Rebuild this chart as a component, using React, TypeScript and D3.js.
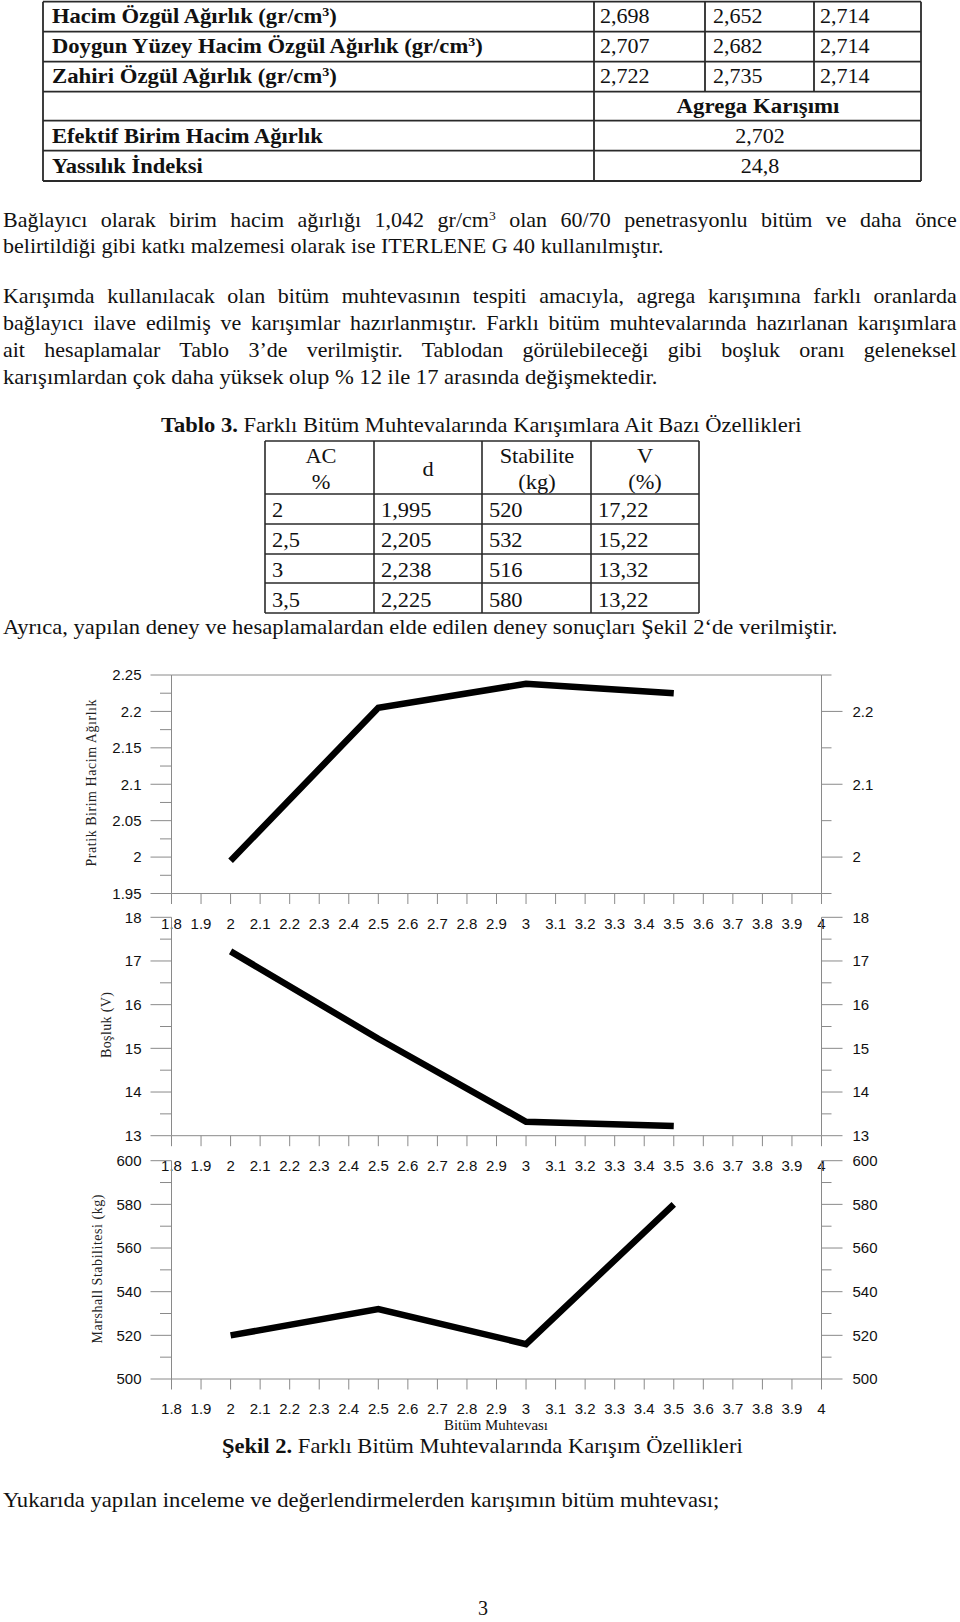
import React, { useEffect, useLayoutEffect, useRef, useState, createContext, useContext } from "react";
import * as d3 from "d3";

// ---------------- DATA ----------------
const matLabels = ["Hacim Özgül Ağırlık (gr/cm^3)", "Doygun Yüzey Hacim Özgül Ağırlık (gr/cm^3)", "Zahiri Özgül Ağırlık (gr/cm^3)"];
const matCol1 = ["2,698", "2,707", "2,722"];
const matCol2 = ["2,652", "2,682", "2,735"];
const matCol3 = ["2,714", "2,714", "2,714"];
const mixHeader = "Agrega Karışımı";
const mixLabels = ["Efektif Birim Hacim Ağırlık", "Yassılık İndeksi"];
const mixValues = ["2,702", "24,8"];

const para1 = [
  "Bağlayıcı olarak birim hacim ağırlığı 1,042 gr/cm^3 olan 60/70 penetrasyonlu bitüm ve daha önce",
  "belirtildiği gibi katkı malzemesi olarak ise ITERLENE G 40 kullanılmıştır.",
];
const para2 = [
  "Karışımda kullanılacak olan bitüm muhtevasının tespiti amacıyla, agrega karışımına farklı oranlarda",
  "bağlayıcı ilave edilmiş ve karışımlar hazırlanmıştır. Farklı bitüm muhtevalarında hazırlanan karışımlara",
  "ait hesaplamalar Tablo 3’de verilmiştir. Tablodan görülebileceği gibi boşluk oranı geleneksel",
  "karışımlardan çok daha yüksek olup % 12 ile 17 arasında değişmektedir.",
];
const table3Title = "**Tablo 3.** Farklı Bitüm Muhtevalarında Karışımlara Ait Bazı Özellikleri";
const table3Head1 = ["AC", "", "Stabilite", "V"];
const table3Head2 = ["%", "", "(kg)", "(%)"];
const afterTable = "Ayrıca, yapılan deney ve hesaplamalardan elde edilen deney sonuçları Şekil 2‘de verilmiştir.";
const figCaption = "**Şekil 2.** Farklı Bitüm Muhtevalarında Karışım Özellikleri";
const xTitle = "Bitüm Muhtevası";
const lastLine = "Yukarıda yapılan inceleme ve değerlendirmelerden karışımın bitüm muhtevası;";
const pageNo = "3";

// chart / table series
const bitumen = [2, 2.5, 3, 3.5];
const density = [1.995, 2.205, 2.238, 2.225];
const stability = [520, 532, 516, 580];
const voids = [17.22, 15.22, 13.32, 13.22];

const xTickLabels = ["1.8", "1.9", "2", "2.1", "2.2", "2.3", "2.4", "2.5", "2.6", "2.7", "2.8", "2.9", "3", "3.1", "3.2", "3.3", "3.4", "3.5", "3.6", "3.7", "3.8", "3.9", "4"];
const densityLeftLabels = ["1.95", "2", "2.05", "2.1", "2.15", "2.2", "2.25"];
const densityRightLabels = ["2", "2.1", "2.2"];
const voidsLabels = ["13", "14", "15", "16", "17", "18"];
const stabLabels = ["500", "520", "540", "560", "580", "600"];

// ---------------- helpers ----------------
const SERIF = "'Liberation Serif', 'Times New Roman', serif";
const SANS = "'Liberation Sans', Arial, sans-serif";
const TickCtx = createContext(0);

function rich(s: string, supDy: number) {
  const parts = s.split(/(\*\*[^*]+\*\*|\^\d)/).filter((p) => p !== "");
  const out: any[] = [];
  let down = false;
  parts.forEach((p, i) => {
    if (p.startsWith("**")) {
      out.push(<tspan key={i} fontWeight="bold" dy={down ? supDy : undefined}>{p.slice(2, -2)}</tspan>);
      down = false;
    } else if (p.startsWith("^")) {
      out.push(<tspan key={i} dy={-supDy} fontSize="62%">{p.slice(1)}</tspan>);
      down = true;
    } else {
      out.push(<tspan key={i} dy={down ? supDy : undefined}>{p}</tspan>);
      down = false;
    }
  });
  return out;
}

type FTProps = {
  x: number; y: number; w?: number; sx?: number; justify?: boolean;
  anchor?: "start" | "middle" | "end"; size?: number; weight?: any; family?: string;
  text: string; fill?: string;
};
function FT({ x, y, w, sx, justify, anchor = "start", size = 20, weight = "normal", family = SERIF, text, fill = "#111" }: FTProps) {
  const ref = useRef<SVGTextElement>(null);
  const tick = useContext(TickCtx);
  useLayoutEffect(() => {
    const el = ref.current;
    if (!el) return;
    el.removeAttribute("transform");
    el.style.wordSpacing = "0px";
    const L = el.getComputedTextLength();
    if (!L) return;
    let s = sx ?? 1;
    if (justify && w) {
      const n = ((el.textContent || "").match(/ /g) || []).length || 1;
      let ws = (w / s - L) / n;
      if (ws < -1.2) { ws = -1.2; s = w / (L + n * ws); }
      el.style.wordSpacing = ws + "px";
    } else if (w) {
      s = w / L;
    }
    el.setAttribute("transform", `translate(${x} 0) scale(${s} 1) translate(${-x} 0)`);
  }, [tick, x, y, w, sx, justify, text]);
  return (
    <text ref={ref} x={x} y={y} textAnchor={anchor} fontSize={size} fontWeight={weight} fontFamily={family} fill={fill} style={{ whiteSpace: "pre" }}>
      {rich(text, size * 0.38)}
    </text>
  );
}

// ---------------- chart geometry ----------------
const X_LEFT = 171.5;
const X_RIGHT = 821.5;
const MAJ = 21;
const MIN_L = 11.5;
const MIN_R = 10;
const xScale = d3.scaleLinear().domain([1.8, 4]).range([X_LEFT, X_RIGHT]);

type ChartCfg = {
  top: number; bottom: number; domain: [number, number];
  values: number[]; leftLabels: string[]; rightLabels: string[];
  leftMajor: number; leftMinor: number; rightMajor: number; rightMinor: number;
  topLine: boolean; title: string; titleX: number; titleY: number; titleLen: number;
};

const charts: ChartCfg[] = [
  { top: 675, bottom: 893.5, domain: [1.95, 2.25], values: density, leftLabels: densityLeftLabels, rightLabels: densityRightLabels,
    leftMajor: 0.05, leftMinor: 0.025, rightMajor: 0.1, rightMinor: 0.05, topLine: true,
    title: "Pratik Birim Hacim Ağırlık", titleX: 91, titleY: 783, titleLen: 167 },
  { top: 917.3, bottom: 1135.7, domain: [13, 18], values: voids, leftLabels: voidsLabels, rightLabels: voidsLabels,
    leftMajor: 1, leftMinor: 0.5, rightMajor: 1, rightMinor: 0.5, topLine: false,
    title: "Boşluk (V)", titleX: 106, titleY: 1025, titleLen: 66 },
  { top: 1160.7, bottom: 1379, domain: [500, 600], values: stability, leftLabels: stabLabels, rightLabels: stabLabels,
    leftMajor: 20, leftMinor: 10, rightMajor: 20, rightMinor: 10, topLine: false,
    title: "Marshall Stabilitesi (kg)", titleX: 97, titleY: 1269, titleLen: 149 },
];

const AXIS = "#8a8a8a";

function Chart({ c }: { c: ChartCfg }) {
  const y = d3.scaleLinear().domain(c.domain).range([c.bottom, c.top]);
  const [d0, d1] = c.domain;
  const eps = 1e-9;
  const steps = (st: number) => d3.range(0, Math.round((d1 - d0) / st) + 1).map((i) => d0 + i * st);
  const leftMinorVals = steps(c.leftMinor).filter((v) => Math.abs(((v - d0) / c.leftMajor) - Math.round((v - d0) / c.leftMajor)) > eps);
  const rightMajorVals = c.rightLabels.map(Number);
  const rightMinorVals = steps(c.rightMinor).filter((v) => !rightMajorVals.some((m) => Math.abs(m - v) < 1e-6));
  const line = d3.line<number>().x((_, i) => xScale(bitumen[i])).y((v) => y(v));
  const lblColor = "#111";
  return (
    <g>
      {/* axes */}
      <line x1={X_LEFT} x2={X_LEFT} y1={c.top} y2={c.bottom} stroke={AXIS} strokeWidth={1} />
      <line x1={X_RIGHT} x2={X_RIGHT} y1={c.top} y2={c.bottom} stroke={AXIS} strokeWidth={1} />
      <line x1={X_LEFT} x2={X_RIGHT} y1={c.bottom} y2={c.bottom} stroke={AXIS} strokeWidth={1} />
      {c.topLine && <line x1={X_LEFT} x2={X_RIGHT} y1={c.top} y2={c.top} stroke={AXIS} strokeWidth={1} />}
      {/* left ticks */}
      {c.leftLabels.map((l) => (
        <line key={"lm" + l} x1={X_LEFT - MAJ} x2={X_LEFT} y1={y(+l)} y2={y(+l)} stroke={AXIS} strokeWidth={1} />
      ))}
      {leftMinorVals.map((v, i) => (
        <line key={"ln" + i} x1={X_LEFT - MIN_L} x2={X_LEFT} y1={y(v)} y2={y(v)} stroke={AXIS} strokeWidth={1} />
      ))}
      {/* right ticks */}
      {c.rightLabels.map((l) => (
        <line key={"rm" + l} x1={X_RIGHT} x2={X_RIGHT + MAJ} y1={y(+l)} y2={y(+l)} stroke={AXIS} strokeWidth={1} />
      ))}
      {rightMinorVals.map((v, i) => (
        <line key={"rn" + i} x1={X_RIGHT} x2={X_RIGHT + MIN_R} y1={y(v)} y2={y(v)} stroke={AXIS} strokeWidth={1} />
      ))}
      {/* x ticks */}
      {xTickLabels.map((l) => (
        <line key={"xt" + l} x1={xScale(+l)} x2={xScale(+l)} y1={c.bottom} y2={c.bottom + 10.5} stroke={AXIS} strokeWidth={1} />
      ))}
      {/* data line */}
      <path d={line(c.values) || ""} fill="none" stroke="#000" strokeWidth={6.5} strokeLinejoin="miter" strokeLinecap="butt" />
      {/* labels */}
      {c.leftLabels.map((l) => (
        <text key={"ll" + l} x={X_LEFT - 30} y={y(+l) + 5.3} textAnchor="end" fontFamily={SANS} fontSize={15} fill={lblColor}>{l}</text>
      ))}
      {c.rightLabels.map((l) => (
        <text key={"rl" + l} x={X_RIGHT + 31} y={y(+l) + 5.3} textAnchor="start" fontFamily={SANS} fontSize={15} fill={lblColor}>{l}</text>
      ))}
      {xTickLabels.map((l) => (
        <text key={"xl" + l} x={xScale(+l)} y={c.bottom + 35} textAnchor="middle" fontFamily={SANS} fontSize={15} fill={lblColor}>{l}</text>
      ))}
      <g transform={`translate(${c.titleX},${c.titleY}) rotate(-90)`}>
        <text x={0} y={5} textAnchor="middle" fontFamily={SERIF} fontSize={14} fill="#222" textLength={c.titleLen} lengthAdjust="spacing">{c.title}</text>
      </g>
    </g>
  );
}

// ---------------- tables ----------------
function TopTable() {
  const L = 43, C1 = 594, C2 = 705, C3 = 814, R = 921;
  const rows = [1.7, 31.7, 61.7, 91.7, 120.7, 150.7, 181];
  const base = [23.5, 53.5, 83.5, 113, 143.5, 173.5];
  const labW = [285, 431, 285];
  const mixW = [271, 151];
  const st = "#2a2a2a";
  return (
    <g>
      {rows.map((r, i) => <line key={"h" + i} x1={L} x2={R} y1={r} y2={r} stroke={st} strokeWidth={1.8} />)}
      {[L, C1, R].map((x, i) => <line key={"v" + i} x1={x} x2={x} y1={rows[0]} y2={rows[6]} stroke={st} strokeWidth={1.8} />)}
      {[C2, C3].map((x, i) => <line key={"w" + i} x1={x} x2={x} y1={rows[0]} y2={rows[3]} stroke={st} strokeWidth={1.8} />)}
      {matLabels.map((t, i) => <FT key={"ml" + i} x={52} y={base[i]} w={labW[i]} size={21} weight="bold" text={t} />)}
      {matCol1.map((t, i) => <FT key={"c1" + i} x={600} y={base[i]} sx={1.05} size={21} text={t} />)}
      {matCol2.map((t, i) => <FT key={"c2" + i} x={713} y={base[i]} sx={1.05} size={21} text={t} />)}
      {matCol3.map((t, i) => <FT key={"c3" + i} x={820} y={base[i]} sx={1.05} size={21} text={t} />)}
      <FT x={758} y={base[3]} w={163} anchor="middle" size={21} weight="bold" text={mixHeader} />
      {mixLabels.map((t, i) => <FT key={"xl" + i} x={52} y={base[4 + i]} w={mixW[i]} size={21} weight="bold" text={t} />)}
      {mixValues.map((t, i) => <FT key={"xv" + i} x={760} y={base[4 + i]} sx={1.05} anchor="middle" size={21} text={t} />)}
    </g>
  );
}

function Table3() {
  const cols = [265, 374, 482, 591, 699];
  const rows = [441, 494, 524, 554, 583, 613];
  const base = [516.7, 546.7, 576.7, 606.7];
  const fmt = (v: number) => String(v).replace(".", ",");
  const colsData = [bitumen.map(fmt), density.map(fmt), stability.map(fmt), voids.map(fmt)];
  const st = "#2a2a2a";
  const centers = [321, 428, 537, 645];
  return (
    <g>
      {rows.map((r, i) => <line key={"h" + i} x1={cols[0]} x2={cols[4]} y1={r} y2={r} stroke={st} strokeWidth={1.6} />)}
      {cols.map((x, i) => <line key={"v" + i} x1={x} x2={x} y1={rows[0]} y2={rows[5]} stroke={st} strokeWidth={1.6} />)}
      {table3Head1.map((t, i) => t && <FT key={"a" + i} x={centers[i]} y={463} sx={1.12} anchor="middle" text={t} />)}
      {table3Head2.map((t, i) => t && <FT key={"b" + i} x={centers[i]} y={489.5} sx={1.12} anchor="middle" text={t} />)}
      <FT x={centers[1]} y={476} sx={1.12} anchor="middle" text="d" />
      {colsData.map((col, ci) => col.map((t, ri) => (
        <FT key={ci + "-" + ri} x={cols[ci] + 7} y={base[ri]} sx={1.12} text={t} />
      )))}
    </g>
  );
}

export default function App() {
  const [tick, setTick] = useState(0);
  useEffect(() => {
    if ((document as any).fonts && (document as any).fonts.ready) {
      (document as any).fonts.ready.then(() => setTick((t) => t + 1));
    }
  }, []);
  const p1Base = [227.5, 253.5];
  const p2Base = [303, 330, 357, 384];
  return (
    <TickCtx.Provider value={tick}>
      <svg width={960} height={1622} style={{ position: "absolute", left: 0, top: 0, background: "#fff" }}>
        <rect x={0} y={0} width={960} height={1622} fill="#fff" />
        <TopTable />
        <FT x={3} y={p1Base[0]} w={954} sx={1.1} justify text={para1[0]} />
        <FT x={3} y={p1Base[1]} w={661} text={para1[1]} />
        {para2.map((t, i) => (
          i < 3
            ? <FT key={"p2" + i} x={3} y={p2Base[i]} w={954} sx={1.1} justify text={t} />
            : <FT key={"p2" + i} x={3} y={p2Base[i]} w={655} text={t} />
        ))}
        <FT x={161} y={432} w={641} text={table3Title} />
        <Table3 />
        <FT x={3} y={634} w={835} text={afterTable} />
        {charts.map((c, i) => <Chart key={i} c={c} />)}
        <FT x={496} y={1430} w={104} anchor="middle" size={14} text={xTitle} />
        <FT x={222} y={1453} w={521} size={20} text={figCaption} />
        <FT x={3} y={1507} w={717} size={20} text={lastLine} />
        <FT x={483} y={1615} sx={1.0} anchor="middle" size={20} text={pageNo} />
      </svg>
    </TickCtx.Provider>
  );
}
